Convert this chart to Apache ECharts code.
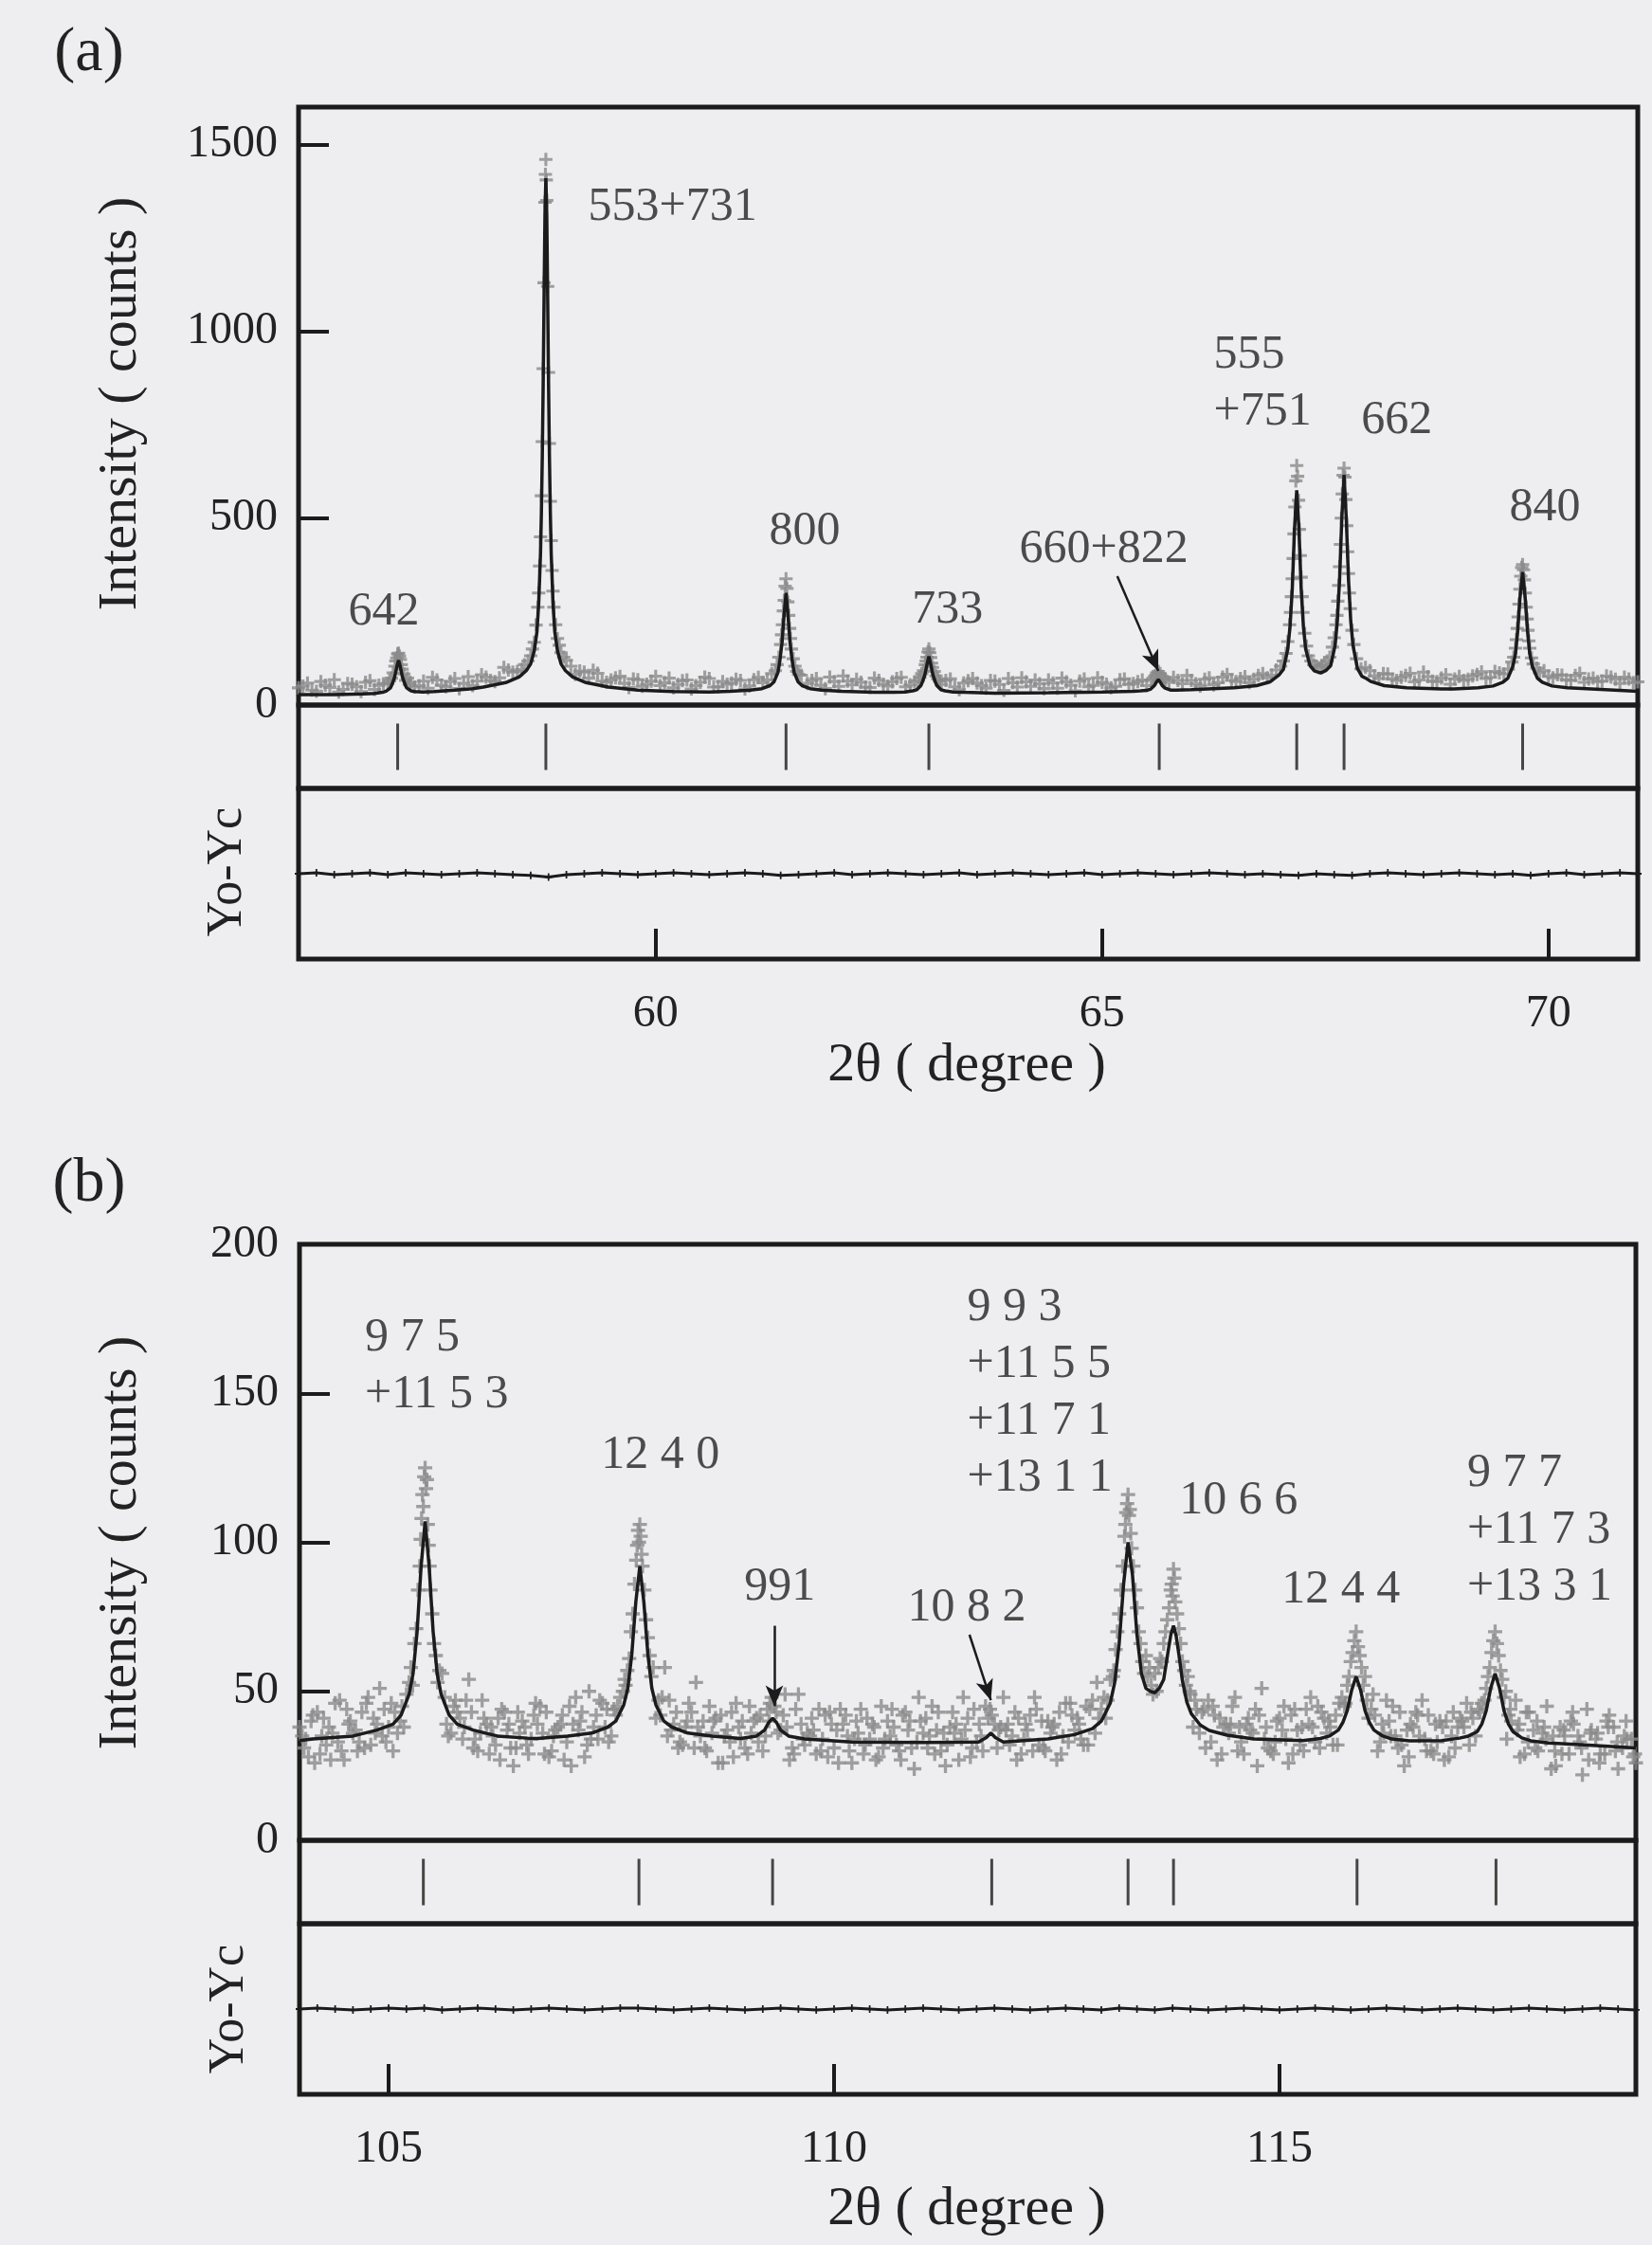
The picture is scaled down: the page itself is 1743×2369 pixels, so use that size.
<!DOCTYPE html>
<html>
<head>
<meta charset="utf-8">
<title>Rietveld fit</title>
<script src="https://cdn.jsdelivr.net/npm/echarts@6/dist/echarts.min.js"></script>
<style>
  html, body { margin: 0; padding: 0; background: #eeeef0; }
  #chart { width: 1743px; height: 2369px; }
</style>
</head>
<body>
<div id="chart"></div>
<script>
// ---- panel (a) ----
const xRangeA = [56, 71];
const yRangeA = [0, 1600];
const xTicksA = [60, 65, 70];
const yTicksA = [0, 500, 1000, 1500];
const reflA = [57.11, 58.77, 61.46, 63.06, 65.64, 67.18, 67.71, 69.71];

// calculated profile
const calcA = [
  [56.0,28],[56.4,28],[56.72,30],[56.85,31],[56.94,34],[56.98,37],[57.03,46],[57.05,57],[57.075,74],[57.10,102],
  [57.12,120],[57.14,102],[57.165,74],[57.19,57],[57.21,46],[57.26,38],[57.30,36],[57.39,35],[57.52,36],[57.75,40],
  [57.95,44],[58.07,48],[58.32,60],[58.47,75],[58.55,92],[58.60,110],[58.64,145],[58.67,196],[58.69,272],[58.71,405],
  [58.72,516],[58.73,665],[58.74,860],[58.75,1095],[58.76,1312],[58.77,1410],[58.78,1312],[58.79,1095],[58.80,860],
  [58.81,665],[58.82,516],[58.83,405],[58.85,272],[58.87,196],[58.90,145],[58.94,110],[58.99,92],[59.07,75],[59.22,60],
  [59.47,48],[59.8,40],[60.2,36],[60.6,35],[60.83,37],[61.06,40],[61.19,44],[61.28,52],[61.325,62],[61.37,88],
  [61.39,117],[61.415,167],[61.44,247],[61.46,300],[61.48,247],[61.505,167],[61.53,117],[61.55,88],[61.595,62],
  [61.64,52],[61.73,44],[61.86,40],[62.09,37],[62.45,34],[62.66,34],[62.79,35],[62.88,38],[62.925,41],[62.97,52],
  [62.99,63],[63.015,81],[63.04,110],[63.06,130],[63.08,110],[63.105,81],[63.13,63],[63.15,52],[63.195,41],[63.24,38],
  [63.33,35],[63.46,34],[63.8,32],[64.4,33],[65.0,35],[65.35,37],[65.43,38],[65.495,39],[65.54,42],[65.56,46],
  [65.585,52],[65.61,62],[65.63,68],[65.65,62],[65.675,52],[65.70,46],[65.72,42],[65.765,40],[65.83,40],[66.0,41],
  [66.48,46],[66.73,52],[66.88,62],[66.98,80],[67.03,95],[67.08,150],[67.105,210],[67.13,310],[67.155,470],[67.18,575],
  [67.205,470],[67.23,310],[67.255,210],[67.28,150],[67.33,105],[67.38,91],[67.45,86],[67.51,93],[67.56,105],[67.61,160],
  [67.635,225],[67.66,335],[67.685,500],[67.71,616],[67.735,500],[67.76,335],[67.785,225],[67.81,160],[67.86,98],
  [67.91,77],[67.96,71],[68.01,63],[68.16,52],[68.41,46],[68.8,43],[68.94,43],[69.21,46],[69.38,51],[69.49,61],
  [69.545,72],[69.60,103],[69.63,137],[69.655,198],[69.68,285],[69.71,356],[69.74,283],[69.765,198],[69.79,137],
  [69.82,103],[69.875,72],[69.93,61],[70.04,51],[70.21,46],[70.48,43],[71.0,37]
];

// observed counts
const obsA = [
  [56.0,46],[56.1,59],[56.2,37],[56.3,53],[56.4,68],[56.5,42],[56.6,56],[56.7,36],[56.8,65],[56.9,53],
  [57.00,58],[57.02,65],[57.04,72],[57.06,86],[57.08,104],[57.09,118],[57.10,126],[57.11,137],[57.12,139],[57.13,131],
  [57.14,122],[57.15,108],[57.16,96],[57.18,83],[57.20,66],[57.22,72],[57.24,55],
  [57.3,48],[57.4,64],[57.5,74],[57.6,53],[57.7,63],[57.8,44],[57.9,76],[58.0,64],[58.1,75],[58.2,63],[58.3,101],[58.4,88],[58.5,95],
  [58.57,118],[58.60,132],[58.62,150],[58.64,168],[58.66,214],[58.68,262],[58.69,300],[58.70,372],[58.71,450],[58.72,560],
  [58.73,705],[58.74,900],[58.75,1130],[58.76,1345],[58.765,1420],[58.77,1460],[58.775,1405],[58.78,1350],[58.79,1120],
  [58.80,890],[58.81,700],[58.82,545],[58.83,440],[58.84,360],[58.85,305],[58.86,262],[58.88,215],[58.90,178],[58.92,160],
  [58.94,140],[58.97,128],
  [59.0,120],[59.1,82],[59.2,88],[59.3,93],[59.4,64],[59.5,67],[59.6,77],[59.7,47],[59.8,68],[59.9,56],[60.0,77],[60.1,60],
  [60.2,46],[60.3,65],[60.4,43],[60.5,61],[60.6,71],[60.7,49],[60.8,56],[60.9,69],[61.0,43],[61.1,68],[61.2,60],[61.3,84],
  [61.34,92],[61.36,108],[61.38,128],[61.40,162],[61.41,188],[61.42,215],[61.43,252],[61.44,280],[61.45,318],[61.46,338],
  [61.47,312],[61.48,276],[61.49,240],[61.50,205],[61.51,178],[61.52,150],[61.54,124],[61.56,104],[61.58,90],
  [61.6,82],[61.7,58],[61.8,71],[61.9,44],[62.0,63],[62.1,78],[62.2,54],[62.3,61],[62.4,47],[62.5,66],[62.6,51],[62.7,71],
  [62.8,49],[62.9,62],
  [62.94,66],[62.96,74],[62.98,84],[63.00,92],[63.02,108],[63.03,118],[63.04,128],[63.05,142],[63.06,150],[63.07,140],
  [63.08,127],[63.09,112],[63.10,101],[63.12,90],[63.14,78],[63.16,70],[63.18,64],
  [63.2,55],[63.3,70],[63.4,41],[63.5,65],[63.6,59],[63.7,45],[63.8,64],[63.9,39],[64.0,60],[64.1,73],[64.2,50],[64.3,57],
  [64.4,67],[64.5,45],[64.6,62],[64.7,38],[64.8,70],[64.9,53],[65.0,61],[65.1,46],[65.2,68],[65.3,55],[65.4,63],[65.5,52],
  [65.55,66],[65.57,72],[65.59,78],[65.61,86],[65.63,90],[65.65,84],[65.67,77],[65.69,70],[65.71,68],
  [65.8,74],[65.9,57],[66.0,66],[66.1,51],[66.2,73],[66.3,60],[66.4,82],[66.5,63],[66.6,76],[66.7,69],[66.8,84],[66.9,80],[67.0,104],
  [67.06,138],[67.08,170],[67.10,215],[67.11,248],[67.12,290],[67.13,338],[67.14,392],[67.15,458],[67.16,530],[67.17,600],
  [67.18,641],[67.19,612],[67.20,548],[67.21,470],[67.22,400],[67.23,342],[67.24,290],[67.25,248],[67.27,192],[67.29,158],
  [67.31,132],[67.34,118],[67.37,108],[67.40,104],[67.43,100],[67.46,106],[67.49,110],[67.52,118],[67.55,128],[67.58,155],
  [67.60,180],[67.62,215],[67.63,240],[67.64,278],[67.65,320],[67.66,370],[67.67,430],[67.68,500],[67.69,565],[67.70,615],
  [67.71,634],[67.72,610],[67.73,550],[67.74,480],[67.75,410],[67.76,352],[67.77,300],[67.78,258],[67.80,200],[67.82,162],
  [67.9,97],[68.0,92],[68.1,71],[68.2,83],[68.3,66],[68.4,79],[68.5,62],[68.6,88],[68.7,64],[68.8,72],[68.9,56],[69.0,77],
  [69.1,69],[69.2,82],[69.3,71],[69.4,90],[69.5,83],
  [69.59,115],[69.61,128],[69.63,152],[69.64,175],[69.65,205],[69.66,236],[69.67,270],[69.68,310],[69.69,345],[69.70,368],
  [69.71,376],[69.72,362],[69.73,335],[69.74,300],[69.75,262],[69.76,230],[69.77,200],[69.78,172],[69.79,152],[69.81,126],[69.83,110],
  [69.9,86],[70.0,77],[70.1,81],[70.2,68],[70.3,79],[70.4,61],[70.5,72],[70.6,64],[70.7,75],[70.8,58],[70.9,70],[71.0,62],
  [56.05,51],[56.15,40],[56.25,63],[56.35,47],[56.45,35],[56.55,58],[56.65,49],[56.75,61],[56.85,42],[56.95,57],
  [57.25,61],[57.35,52],[57.45,45],[57.55,67],[57.65,49],[57.75,71],[57.85,58],[57.95,52],[58.05,81],[58.15,66],
  [58.25,73],[58.35,94],[58.45,90],[58.53,108],[59.05,104],[59.15,91],[59.25,72],[59.35,85],[59.45,61],[59.55,73],
  [59.65,58],[59.75,70],[59.85,50],[59.95,64],[60.05,52],[60.15,72],[60.25,55],[60.35,67],[60.45,52],[60.55,75],
  [60.65,48],[60.75,63],[60.85,59],[60.95,66],[61.05,51],[61.15,74],[61.25,67],[61.63,80],[61.75,66],[61.85,53],
  [61.95,75],[62.05,50],[62.15,64],[62.25,69],[62.35,48],[62.45,72],[62.55,56],[62.65,62],[62.75,74],[62.85,54],
  [63.25,66],[63.35,49],[63.45,59],[63.55,71],[63.65,52],[63.75,66],[63.85,55],[63.95,71],[64.05,48],[64.15,62],
  [64.25,67],[64.35,44],[64.45,59],[64.55,72],[64.65,53],[64.75,64],[64.85,49],[64.95,73],[65.05,56],[65.15,50],
  [65.25,70],[65.35,58],[65.45,67],[65.75,61],[65.85,66],[65.95,79],[66.05,57],[66.15,69],[66.25,54],[66.35,75],
  [66.45,66],[66.55,71],[66.65,60],[66.75,79],[66.85,73],[66.95,94],[67.03,118],[67.85,124],[67.95,101],[68.05,78],
  [68.15,84],[68.25,70],[68.35,74],[68.45,85],[68.55,67],[68.65,76],[68.75,63],[68.85,81],[68.95,70],[69.05,66],
  [69.15,78],[69.25,89],[69.35,74],[69.45,86],[69.55,96],[69.87,99],[69.95,92],[70.05,73],[70.15,80],[70.25,66],
  [70.35,85],[70.45,70],[70.55,63],[70.65,78],[70.75,69],[70.85,75],[70.95,60]
];

// Yo - Yc
const diffA = [
  [56.0,0],[56.2,1],[56.4,-1],[56.6,0],[56.8,1],[57.0,-1],[57.2,1],[57.4,0],[57.6,-1],[57.8,0],[58.0,1],[58.2,0],
  [58.4,-1],[58.6,-2],[58.8,-4],[59.0,-1],[59.2,0],[59.4,1],[59.6,0],[59.8,-1],[60.0,0],[60.2,1],[60.4,0],[60.6,-1],
  [60.8,0],[61.0,1],[61.2,0],[61.4,-2],[61.6,-1],[61.8,0],[62.0,1],[62.2,-1],[62.4,0],[62.6,1],[62.8,0],[63.0,-1],
  [63.2,0],[63.4,1],[63.6,-1],[63.8,0],[64.0,1],[64.2,0],[64.4,-1],[64.6,0],[64.8,1],[65.0,-1],[65.2,0],[65.4,1],
  [65.6,0],[65.8,-1],[66.0,0],[66.2,1],[66.4,0],[66.6,-1],[66.8,0],[67.0,-1],[67.2,-2],[67.4,0],[67.6,-1],[67.8,-2],
  [68.0,0],[68.2,1],[68.4,0],[68.6,-1],[68.8,0],[69.0,1],[69.2,0],[69.4,-1],[69.6,0],[69.8,-2],[70.0,0],[70.2,1],
  [70.4,-1],[70.6,0],[70.8,1],[71.0,0]
];

const labelsA = [
  ['642', 56.955, 248],
  ['553+731', 60.19, 1331],
  ['800', 61.67, 464],
  ['733', 63.27, 254],
  ['660+822', 65.02, 416],
  ['555\n+751', 66.245, 860],
  ['662', 68.30, 761],
  ['840', 69.96, 527]
];
const arrowsA = [
  [[65.17, 345], [65.63, 91]]
];

// ---- panel (b) ----
const xRangeB = [104, 119];
const yRangeB = [0, 200];
const xTicksB = [105, 110, 115];
const yTicksB = [0, 50, 100, 150, 200];
const reflB = [105.39, 107.81, 109.31, 111.77, 113.30, 113.81, 115.87, 117.43];

const calcB = [
  [104.0,33.5],[104.15,34],[104.6,35],[104.87,37],[105.05,39],[105.14,42],[105.23,49],[105.275,56],[105.32,70],
  [105.365,92],[105.41,107],[105.455,92],[105.50,70],[105.545,56],[105.59,49],[105.68,42],[105.77,39],[105.95,37],
  [106.22,35],[106.56,34.3],[106.67,34.2],[107.01,35],[107.28,36],[107.46,38],[107.55,40],[107.64,45.5],[107.685,51],
  [107.73,62.5],[107.775,80],[107.82,92],[107.865,80],[107.91,62.5],[107.955,51],[108.0,45.5],[108.09,40],[108.18,38],
  [108.36,36],[108.63,35],[108.95,34.2],[109.13,35],[109.22,37],[109.265,39.5],[109.31,41],[109.355,39.5],[109.40,37],
  [109.49,35],[109.67,34],[110.2,33],[111.0,32.8],[111.62,33],[111.71,34.5],[111.76,36],[111.81,34.5],[111.90,33],
  [112.4,34],[112.7,35.5],[112.9,37.5],[113.0,40],[113.10,46],[113.15,53],[113.20,66],[113.25,86],[113.30,100],
  [113.35,89],[113.40,69],[113.45,56],[113.50,51],[113.55,50],[113.60,49.5],[113.65,51],[113.70,54],[113.75,63.5],
  [113.78,69],[113.81,72],[113.84,68.6],[113.87,62.5],[113.91,53.6],[113.96,46.4],[114.01,42.5],[114.11,38.7],
  [114.21,36.9],[114.41,35.3],[114.71,34],[115.26,33.5],[115.46,34.2],[115.56,35],[115.66,37],[115.71,39.5],
  [115.76,43.5],[115.81,50.4],[115.86,55],[115.91,50.4],[115.96,43.5],[116.01,39.5],[116.06,37],[116.16,35],
  [116.26,34],[116.46,33.4],[116.82,33.5],[117.02,34.3],[117.12,35],[117.22,36.5],[117.27,39],[117.32,43.5],
  [117.37,51],[117.42,56],[117.47,51],[117.52,43.5],[117.57,39],[117.62,36.5],[117.72,34.4],[117.82,33.4],
  [118.02,32.7],[118.42,32],[119.0,31]
];

const obsB = [
  [104.0,38],[104.1,28],[104.2,43],[104.3,32],[104.4,46],[104.5,27],[104.6,36],[104.7,43],[104.8,32],[104.9,51],
  [105.0,38],[105.1,36],[105.2,49],
  [105.25,58],[105.27,52],[105.29,66],[105.31,71],[105.33,84],[105.35,92],[105.36,101],[105.37,108],[105.38,116],
  [105.39,112],[105.40,122],[105.41,125],[105.42,118],[105.43,121],[105.44,106],[105.45,99],[105.46,92],[105.47,84],
  [105.49,76],[105.51,66],[105.53,62],[105.55,53],[105.57,57],
  [105.6,56],[105.7,36],[105.8,41],[105.9,54],[106.0,30],[106.1,39],[106.2,32],[106.3,43],[106.4,25],[106.5,40],
  [106.6,34],[106.7,45],[106.8,28],[106.9,38],[107.0,33],[107.1,48],[107.2,28],[107.3,38],[107.4,46],[107.5,35],[107.6,48],
  [107.66,52],[107.68,57],[107.70,61],[107.72,70],[107.74,76],[107.76,86],[107.78,94],[107.79,99],[107.80,104],
  [107.81,100],[107.82,106],[107.83,102],[107.84,96],[107.85,92],[107.87,84],[107.89,74],[107.91,68],[107.93,62],
  [107.95,55],[107.97,58],
  [108.0,41],[108.1,58],[108.2,39],[108.3,32],[108.4,43],[108.5,35],[108.6,45],[108.7,26],[108.8,37],[108.9,46],
  [109.0,31],[109.1,40],[109.2,30],[109.25,44],[109.3,48],[109.35,43],[109.4,37],[109.5,27],[109.6,49],[109.7,36],
  [109.8,29],[109.9,42],[110.0,31],[110.1,39],[110.2,26],[110.3,44],[110.4,34],[110.5,28],[110.6,40],[110.7,32],
  [110.8,43],[110.9,24],[111.0,36],[111.1,45],[111.2,30],[111.3,38],[111.4,27],[111.5,41],[111.6,33],[111.7,45],
  [111.75,44],[111.8,39],[111.9,48],[112.0,35],[112.1,29],[112.2,42],[112.3,32],[112.4,40],[112.5,27],[112.6,46],
  [112.7,37],[112.8,32],[112.9,47],[113.0,44],[113.1,54],
  [113.14,57],[113.16,64],[113.18,70],[113.20,76],[113.22,84],[113.24,92],[113.26,102],[113.27,106],[113.28,110],
  [113.29,113],[113.30,116],[113.31,109],[113.32,111],[113.33,103],[113.34,98],[113.36,92],[113.38,84],[113.40,78],
  [113.42,70],[113.44,66],[113.46,60],[113.48,56],[113.50,62],[113.52,55],[113.54,58],[113.56,52],[113.58,49],
  [113.60,56],[113.62,50],[113.64,58],[113.66,61],[113.68,60],[113.70,66],[113.72,70],[113.74,74],[113.76,78],
  [113.78,84],[113.79,86],[113.80,82],[113.81,91],[113.82,88],[113.83,80],[113.85,76],[113.87,71],[113.89,66],
  [113.91,60],[113.93,57],[113.95,52],[113.97,55],
  [114.0,49],[114.1,36],[114.2,47],[114.3,27],[114.4,39],[114.5,48],[114.6,29],[114.7,36],[114.8,51],[114.9,30],
  [115.0,41],[115.1,26],[115.2,37],[115.3,44],[115.4,33],[115.5,41],[115.6,32],[115.7,48],
  [115.74,46],[115.76,52],[115.78,55],[115.80,60],[115.82,63],[115.84,67],[115.86,70],[115.88,65],[115.90,62],
  [115.92,58],[115.94,52],[115.96,55],[115.98,47],
  [116.0,41],[116.1,30],[116.2,47],[116.3,35],[116.4,25],[116.5,38],[116.6,47],[116.7,30],[116.8,40],[116.9,28],
  [117.0,38],[117.1,46],[117.2,35],[117.25,43],
  [117.30,47],[117.32,51],[117.34,55],[117.36,58],[117.38,63],[117.40,67],[117.42,70],[117.44,66],[117.46,62],
  [117.48,57],[117.50,54],[117.52,48],[117.54,50],
  [117.6,40],[117.7,28],[117.8,43],[117.9,30],[118.0,45],[118.1,25],[118.2,35],[118.3,39],[118.4,22],[118.5,37],
  [118.6,29],[118.7,42],[118.8,24],[118.9,34],[119.0,26],
  [104.05,31],[104.15,42],[104.25,35],[104.35,27],[104.45,47],[104.55,39],[104.65,30],[104.75,46],[104.85,36],[104.95,44],
  [105.05,30],[105.15,45],[105.65,39],[105.75,47],[105.85,38],[105.95,31],[106.05,47],[106.15,38],[106.25,27],[106.35,39],
  [106.45,43],[106.55,32],[106.65,46],[106.75,29],[106.85,35],[106.95,42],[107.05,25],[107.15,40],[107.25,50],[107.35,34],
  [107.45,44],[107.55,42],[107.65,54],[108.05,42],[108.15,47],[108.25,31],[108.35,40],[108.45,53],[108.55,31],[108.65,40],
  [108.75,26],[108.85,43],[108.95,34],[109.05,45],[109.15,33],[109.28,46],[109.45,49],[109.55,29],[109.65,34],[109.75,41],
  [109.85,30],[109.95,43],[110.05,26],[110.15,35],[110.25,40],[110.35,32],[110.45,38],[110.55,31],[110.65,44],[110.75,27],
  [110.85,40],[110.95,48],[111.05,31],[111.15,37],[111.25,25],[111.35,36],[111.45,48],[111.55,31],[111.65,35],[111.85,37],
  [111.95,39],[112.05,27],[112.15,39],[112.25,48],[112.35,31],[112.45,38],[112.55,29],[112.65,46],[112.75,39],[112.85,32],
  [112.95,53],[113.05,41],[114.05,47],[114.15,44],[114.25,45],[114.35,29],[114.45,39],[114.55,38],[114.65,41],[114.75,25],
  [114.85,38],[114.95,33],[115.05,45],[115.15,29],[115.25,38],[115.35,48],[115.45,31],[115.55,40],[115.65,32],[116.05,49],
  [116.15,39],[116.25,35],[116.35,43],[116.45,28],[116.55,42],[116.65,30],[116.75,39],[116.85,27],[116.95,43],[117.05,40],
  [117.15,43],[117.55,34],[117.65,47],[117.75,29],[117.85,37],[117.95,36],[118.05,24],[118.15,38],[118.25,29],[118.35,35],
  [118.45,44],[118.55,34],[118.65,29],[118.75,38],[118.85,31],[118.95,34],
  [104.03,35],[104.13,40],[104.23,29],[104.33,38],[104.43,33],[104.53,44],[104.63,37],[104.73,31],[104.83,41],[104.93,35],
  [105.03,46],[105.13,40],[105.23,53],[105.63,48],[105.73,45],[105.83,34],[105.93,43],[106.03,36],[106.13,29],[106.23,41],
  [106.33,37],[106.43,31],[106.53,38],[106.63,42],[106.73,36],[106.83,30],[106.93,39],[107.03,45],[107.13,37],[107.23,32],
  [107.33,42],[107.43,38],[107.53,44],[107.63,50],[108.03,47],[108.13,35],[108.23,43],[108.33,38],[108.43,31],[108.53,40],
  [108.63,36],[108.73,42],[108.83,33],[108.93,38],[109.03,29],[109.13,41],[109.23,35],[109.33,45],[109.43,42],[109.53,31],
  [109.63,39],[109.73,35],[109.83,44],[109.93,28],[110.03,37],[110.13,42],[110.23,34],[110.33,29],[110.43,39],[110.53,45],
  [110.63,35],[110.73,30],[110.83,37],[110.93,33],[111.03,41],[111.13,29],[111.23,36],[111.33,43],[111.43,34],[111.53,28],
  [111.63,39],[111.73,41],[111.83,31],[111.93,37],[112.03,43],[112.13,34],[112.23,30],[112.33,40],[112.43,36],[112.53,43],
  [112.63,33],[112.73,41],[112.83,45],[112.93,36],[113.03,48],[113.13,55],[113.99,50],[114.03,38],[114.13,43],[114.23,33],
  [114.33,41],[114.43,36],[114.53,30],[114.63,39],[114.73,44],[114.83,34],[114.93,29],[115.03,37],[115.13,42],[115.23,32],
  [115.33,39],[115.43,45],[115.53,36],[115.63,42],[115.73,45],[116.03,44],[116.13,33],[116.23,40],[116.33,31],[116.43,37],
  [116.53,43],[116.63,34],[116.73,29],[116.83,38],[116.93,35],[117.03,41],[117.13,32],[117.23,44],[117.57,42],[117.67,37],
  [117.77,43],[117.87,31],[117.97,38],[118.07,35],[118.17,29],[118.27,40],[118.37,33],[118.47,27],[118.57,36],[118.67,40],
  [118.77,30],[118.87,35],[118.97,28],
  [104.07,34],[104.17,26],[104.27,41],[104.37,36],[104.47,30],[104.57,40],[104.67,33],[104.77,48],[104.87,39],[104.97,33],
  [105.07,43],[105.17,38],[105.67,35],[105.77,43],[105.87,47],[105.97,34],[106.07,41],[106.17,35],[106.27,44],[106.37,31],
  [106.47,36],[106.57,29],[106.67,39],[106.77,43],[106.87,37],[106.97,27],[107.07,39],[107.17,43],[107.27,34],[107.37,47],
  [107.47,33],[107.57,45],[108.07,48],[108.17,37],[108.27,33],[108.37,46],[108.47,38],[108.57,30],[108.67,41],[108.77,35],
  [108.87,28],[108.97,40],[109.07,36],[109.17,42],[109.27,40],[109.37,36],[109.47,38],[109.57,44],[109.67,32],[109.77,37],
  [109.87,34],[109.97,39],[110.07,44],[110.17,30],[110.27,36],[110.37,41],[110.47,27],[110.57,34],[110.67,38],[110.77,42],
  [110.87,31],[110.97,40],[111.07,35],[111.17,43],[111.27,32],[111.37,39],[111.47,37],[111.57,44],[111.67,30],[111.77,42],
  [111.87,38],[111.97,32],[112.07,41],[112.17,37],[112.27,44],[112.37,30],[112.47,39],[112.57,35],[112.67,42],[112.77,34],
  [112.87,44],[112.97,41],[113.07,47],[114.07,44],[114.17,31],[114.27,42],[114.37,38],[114.47,45],[114.57,33],[114.67,37],
  [114.77,42],[114.87,31],[114.97,40],[115.07,34],[115.17,44],[115.27,30],[115.37,38],[115.47,43],[115.57,38],[115.67,46],
  [116.07,42],[116.17,36],[116.27,45],[116.37,32],[116.47,39],[116.57,35],[116.67,42],[116.77,33],[116.87,40],[116.97,31],
  [117.07,38],[117.17,41],[117.27,46],[117.59,44],[117.69,39],[117.79,33],[117.89,40],[117.99,34],[118.09,30],[118.19,37],
  [118.29,43],[118.39,31],[118.49,36],[118.59,26],[118.69,38],[118.79,33],[118.89,40],[118.99,29]
];

const diffB = [
  [104.0,0],[104.2,1],[104.4,0],[104.6,-1],[104.8,0],[105.0,1],[105.2,0],[105.4,1],[105.6,-1],[105.8,0],[106.0,1],
  [106.2,0],[106.4,-1],[106.6,0],[106.8,1],[107.0,0],[107.2,-1],[107.4,0],[107.6,1],[107.8,1],[108.0,0],[108.2,-1],
  [108.4,0],[108.6,1],[108.8,0],[109.0,-1],[109.2,0],[109.4,1],[109.6,0],[109.8,-1],[110.0,0],[110.2,1],[110.4,0],
  [110.6,-1],[110.8,0],[111.0,1],[111.2,0],[111.4,-1],[111.6,0],[111.8,1],[112.0,0],[112.2,-1],[112.4,0],[112.6,1],
  [112.8,0],[113.0,-1],[113.2,1],[113.4,0],[113.6,-1],[113.8,1],[114.0,0],[114.2,-1],[114.4,0],[114.6,1],[114.8,0],
  [115.0,-1],[115.2,0],[115.4,1],[115.6,0],[115.8,-1],[116.0,0],[116.2,1],[116.4,0],[116.6,-1],[116.8,0],[117.0,1],
  [117.2,0],[117.4,-1],[117.6,0],[117.8,1],[118.0,0],[118.2,-1],[118.4,0],[118.6,1],[118.8,0],[119.0,-1]
];

const labelsB = [
  ['9 7 5\n+11 5 3', 104.73, 159],
  ['12 4 0', 108.05, 129],
  ['991', 109.39, 85],
  ['10 8 2', 111.49, 78],
  ['9 9 3\n+11 5 5\n+11 7 1\n+13 1 1', 111.49, 150],
  ['10 6 6', 114.54, 114],
  ['12 4 4', 115.69, 84],
  ['9 7 7\n+11 7 3\n+13 3 1', 117.10, 104]
];
const arrowsB = [
  [[109.33, 72], [109.33, 45]],
  [[111.52, 69], [111.76, 47]]
];

document.addEventListener('DOMContentLoaded', function () {
  const chart = echarts.init(document.getElementById('chart'));

  const INK = '#1b1b1b';
  const TEXT = '#222222';
  const GREY = '#898989';
  const FONT = '"Liberation Serif", "Times New Roman", serif';
  const PLUS = 'path://M3.9,0H6.1V3.9H10V6.1H6.1V10H3.9V6.1H0V3.9H3.9Z';

  const panels = [
    { left: 315, top: 113, width: 1413, hMain: 631, hTick: 88, hDiff: 180, obsSize: 14,
      xRange: xRangeA, yRange: yRangeA, xTicks: xTicksA, yTicks: yTicksA,
      refl: reflA, calc: calcA, obs: obsA, diff: diffA, labels: labelsA, arrows: arrowsA },
    { left: 316, top: 1313, width: 1410, hMain: 629, hTick: 88, hDiff: 180, obsSize: 15,
      xRange: xRangeB, yRange: yRangeB, xTicks: xTicksB, yTicks: yTicksB,
      refl: reflB, calc: calcB, obs: obsB, diff: diffB, labels: labelsB, arrows: arrowsB }
  ];

  const grid = [], xAxis = [], yAxis = [], series = [];
  const plain = function (v) { return String(v); };

  panels.forEach(function (p, k) {
    const tops = [p.top, p.top + p.hMain, p.top + p.hMain + p.hTick];
    const heights = [p.hMain, p.hTick, p.hDiff];
    for (let j = 0; j < 3; j++) {
      grid.push({
        left: p.left, top: tops[j], width: p.width, height: heights[j],
        show: true, borderColor: INK, borderWidth: 5, backgroundColor: 'transparent'
      });
      xAxis.push({
        type: 'value', gridIndex: k * 3 + j, min: p.xRange[0], max: p.xRange[1],
        show: j === 2, position: 'bottom',
        axisLine: { show: false, onZero: false },
        splitLine: { show: false },
        axisTick: { show: true, inside: true, length: 32, lineStyle: { color: INK, width: 4 }, customValues: p.xTicks },
        axisLabel: { show: true, customValues: p.xTicks, formatter: plain, fontFamily: FONT, fontSize: 48, color: TEXT, margin: 34 }
      });
    }
    // intensity axis
    yAxis.push({
      type: 'value', gridIndex: k * 3, min: p.yRange[0], max: p.yRange[1],
      axisLine: { show: false, onZero: false },
      splitLine: { show: false },
      axisTick: { show: true, inside: true, length: 32, lineStyle: { color: INK, width: 4 }, customValues: p.yTicks },
      axisLabel: { show: true, customValues: p.yTicks, formatter: plain, fontFamily: FONT, fontSize: 48, color: TEXT, margin: 22 }
    });
    // reflection marker strip
    yAxis.push({ type: 'value', gridIndex: k * 3 + 1, min: 0, max: 1, show: false, splitLine: { show: false } });
    // difference strip
    yAxis.push({ type: 'value', gridIndex: k * 3 + 2, min: -100, max: 100, show: false, splitLine: { show: false } });

    const iMain = k * 3, iTick = k * 3 + 1, iDiff = k * 3 + 2;

    series.push({
      type: 'scatter', xAxisIndex: iMain, yAxisIndex: iMain, data: p.obs,
      symbol: PLUS, symbolSize: p.obsSize, itemStyle: { color: GREY }, z: 2, silent: true
    });
    series.push({
      type: 'line', xAxisIndex: iMain, yAxisIndex: iMain, data: p.calc,
      showSymbol: false, lineStyle: { color: INK, width: 3.5 }, z: 3, silent: true,
      markLine: {
        silent: true, symbol: ['none', 'arrow'], symbolSize: [14, 22],
        label: { show: false },
        lineStyle: { color: INK, width: 2.5, type: 'solid' },
        data: p.arrows.map(function (a) { return [{ coord: a[0] }, { coord: a[1] }]; })
      }
    });
    series.push({
      type: 'scatter', xAxisIndex: iMain, yAxisIndex: iMain, silent: true, z: 4,
      symbolSize: 1, itemStyle: { color: 'transparent' },
      data: p.labels.map(function (l) {
        const multi = l[0].indexOf('\n') >= 0;
        return {
          name: l[0], value: [l[1], l[2]],
          label: {
            show: true, formatter: '{b}', position: multi ? 'right' : 'inside', distance: 0,
            align: multi ? 'left' : 'center', verticalAlign: 'middle',
            fontFamily: FONT, fontSize: 50, lineHeight: 60, color: TEXT
          }
        };
      })
    });
    series.push({
      type: 'scatter', xAxisIndex: iTick, yAxisIndex: iTick, silent: true,
      data: p.refl.map(function (x) { return [x, 0.5]; }),
      symbol: 'rect', symbolSize: [3, 49], itemStyle: { color: INK }
    });
    series.push({
      type: 'line', xAxisIndex: iDiff, yAxisIndex: iDiff, data: p.diff, silent: true,
      symbol: PLUS, symbolSize: 8, showSymbol: true,
      itemStyle: { color: INK }, lineStyle: { color: INK, width: 3 }
    });
  });

  const txt = function (text, x, y, size, rot) {
    return {
      type: 'text', x: x, y: y, rotation: rot || 0, silent: true,
      style: { text: text, x: 0, y: 0, align: 'center', verticalAlign: 'middle',
               fontFamily: FONT, fontSize: size, fill: TEXT }
    };
  };

  chart.setOption({
    backgroundColor: '#eeeef0',
    animation: false,
    grid: grid,
    xAxis: xAxis,
    yAxis: yAxis,
    series: series,
    graphic: [
      txt('(a)', 94, 57, 66),
      txt('(b)', 94, 1250, 66),
      txt('Intensity ( counts )', 128, 426, 58, Math.PI / 2),
      txt('Intensity ( counts )', 128, 1628, 58, Math.PI / 2),
      txt('Yo-Yc', 240, 920, 52, Math.PI / 2),
      txt('Yo-Yc', 242, 2120, 52, Math.PI / 2),
      txt('2θ ( degree )', 1020, 1125, 58),
      txt('2θ ( degree )', 1020, 2332, 58)
    ]
  });

  window.addEventListener('resize', function () {
    chart.resize();
  });
});
</script>
</body>
</html>
